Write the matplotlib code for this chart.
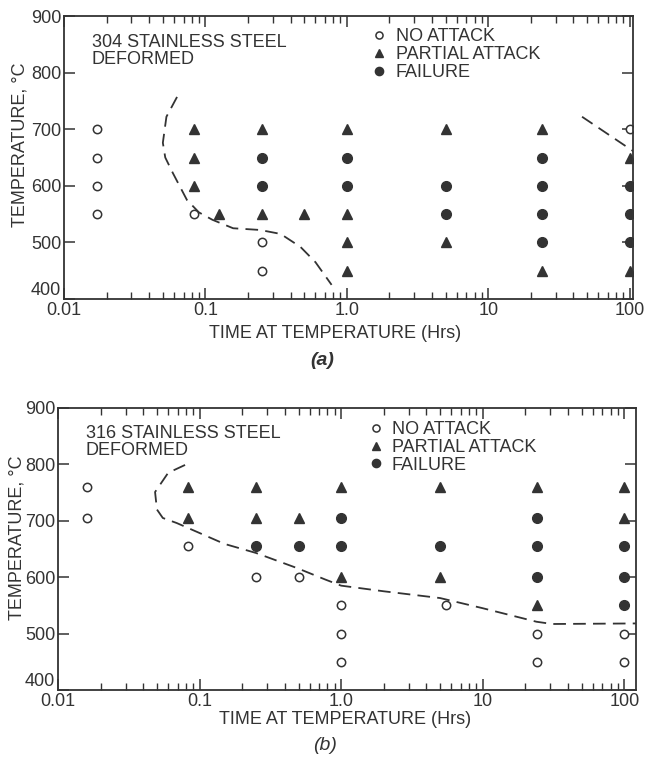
import numpy as np
import matplotlib
matplotlib.use('Agg')
import matplotlib.pyplot as plt

plt.rcParams['font.family'] = ['Liberation Sans', 'DejaVu Sans']

INK = '#333333'

# ---- panel (a): 304 stainless steel ----
a_none_t = [0.017, 0.017, 0.017, 0.017, 0.083, 0.25, 0.25, 100]
a_none_T = [700, 650, 600, 550, 550, 500, 450, 700]
a_part_t = [0.083, 0.083, 0.083, 0.125, 0.25, 0.25, 0.5, 1.0, 1.0, 1.0, 1.0, 5, 5, 24, 24, 100, 100]
a_part_T = [700, 650, 600, 550, 700, 550, 550, 700, 550, 500, 450, 700, 500, 700, 450, 650, 450]
a_fail_t = [0.25, 0.25, 1.0, 1.0, 5, 5, 24, 24, 24, 24, 100, 100, 100]
a_fail_T = [650, 600, 650, 600, 600, 550, 650, 600, 550, 500, 600, 550, 500]
a_curve1_t = [0.063, 0.053, 0.050, 0.052, 0.059, 0.074, 0.090, 0.112, 0.157, 0.243, 0.34, 0.47, 0.60, 0.78]
a_curve1_T = [757, 722, 676, 650, 622, 575, 553, 540, 525, 522, 515, 492, 465, 425]
a_curve2_t = [46, 120]
a_curve2_T = [722, 652]

# ---- panel (b): 316 stainless steel ----
b_none_t = [0.016, 0.016, 0.083, 0.25, 0.5, 1.0, 1.0, 1.0, 5.5, 24, 24, 100, 100]
b_none_T = [760, 705, 655, 600, 600, 550, 500, 450, 550, 500, 450, 500, 450]
b_part_t = [0.083, 0.083, 0.25, 0.25, 0.5, 1.0, 1.0, 5, 5, 24, 24, 100, 100]
b_part_T = [760, 705, 760, 705, 705, 760, 600, 760, 600, 760, 550, 760, 705]
b_fail_t = [0.25, 0.5, 1.0, 1.0, 5, 24, 24, 24, 100, 100, 100]
b_fail_T = [655, 655, 705, 655, 655, 705, 655, 600, 655, 600, 550]
b_curve_t = [0.079, 0.060, 0.0485, 0.050, 0.055, 0.069, 0.15, 0.25, 0.49, 0.77, 1.0, 2.0, 5.0, 10, 24, 31, 121]
b_curve_T = [799, 785, 751, 720, 705, 696, 659, 643, 616, 596, 585, 575, 563, 545, 521, 517, 518]

x_ticks = [0.01, 0.1, 1.0, 10, 100]
x_labels = ['0.01', '0.1', '1.0', '10', '100']
y_ticks = [400, 500, 600, 700, 800, 900]


def draw_panel(ax, none, part, fail, curves, title, xmax, leg_xy, title_xy, ylab_xy, xlab_xy):
    for t, T in curves:
        ax.plot(t, T, color=INK, lw=1.3, dashes=(7, 4))
    ax.plot(none[0], none[1], 'o', ls='none', mfc='white', mec=INK, mew=1.1, ms=6,
            label='NO ATTACK')
    ax.plot(part[0], part[1], '^', ls='none', color=INK, ms=7, label='PARTIAL ATTACK')
    ax.plot(fail[0], fail[1], 'o', ls='none', color=INK, ms=7, label='FAILURE')

    ax.set_xscale('log')
    ax.set_xlim(0.01, xmax)
    ax.set_ylim(400, 900)
    ax.set_xticks(x_ticks)
    ax.set_xticklabels(x_labels)
    ax.set_yticks(y_ticks)
    ax.tick_params(which='both', direction='in', top=True, right=True, colors=INK,
                   labelsize=13, pad=2)
    ax.tick_params(which='major', length=8, width=1.1)
    ax.tick_params(which='minor', length=5, width=1.0)
    ax.get_yticklabels()[0].set_va('bottom')
    for s in ax.spines.values():
        s.set_color(INK)
        s.set_linewidth(1.3)

    ax.text(title_xy[0], title_xy[1], title, transform=ax.transAxes, fontsize=13,
            color=INK, va='top', ha='left', linespacing=1.0)
    ax.set_ylabel('TEMPERATURE, \u00b0C', fontsize=13, color=INK)
    ax.yaxis.set_label_coords(*ylab_xy)
    ax.set_xlabel('TIME AT TEMPERATURE (Hrs)', fontsize=13, color=INK)
    ax.xaxis.set_label_coords(*xlab_xy)

    leg = ax.legend(loc='upper left', bbox_to_anchor=leg_xy, frameon=False, fontsize=13,
                    handlelength=0.6, handletextpad=0.6, labelspacing=0.05, borderpad=0,
                    borderaxespad=0, markerscale=0.85)
    for txt in leg.get_texts():
        txt.set_color(INK)


fig = plt.figure(figsize=(6.45, 7.62), dpi=100)
ax1 = fig.add_axes([0.0992, 0.6076, 0.8818, 0.3714])
ax2 = fig.add_axes([0.0899, 0.0945, 0.8961, 0.3701])

draw_panel(ax1, (a_none_t, a_none_T), (a_part_t, a_part_T), (a_fail_t, a_fail_T),
           [(a_curve1_t, a_curve1_T), (a_curve2_t, a_curve2_T)],
           '304 STAINLESS STEEL\nDEFORMED', 105,
           (0.545, 0.957), (0.049, 0.935), (-0.062, 0.544), (0.476, -0.092))
draw_panel(ax2, (b_none_t, b_none_T), (b_part_t, b_part_T), (b_fail_t, b_fail_T),
           [(b_curve_t, b_curve_T)],
           '316 STAINLESS STEEL\nDEFORMED', 121,
           (0.54, 0.954), (0.048, 0.94), (-0.057, 0.54), (0.497, -0.074))

fig.text(0.50, 0.527, '(a)', fontsize=14, fontstyle='italic', fontweight='bold',
         color=INK, ha='center', va='center')
fig.text(0.504, 0.022, '(b)', fontsize=14, fontstyle='italic',
         color=INK, ha='center', va='center')

fig.savefig('out.png', dpi=100)
